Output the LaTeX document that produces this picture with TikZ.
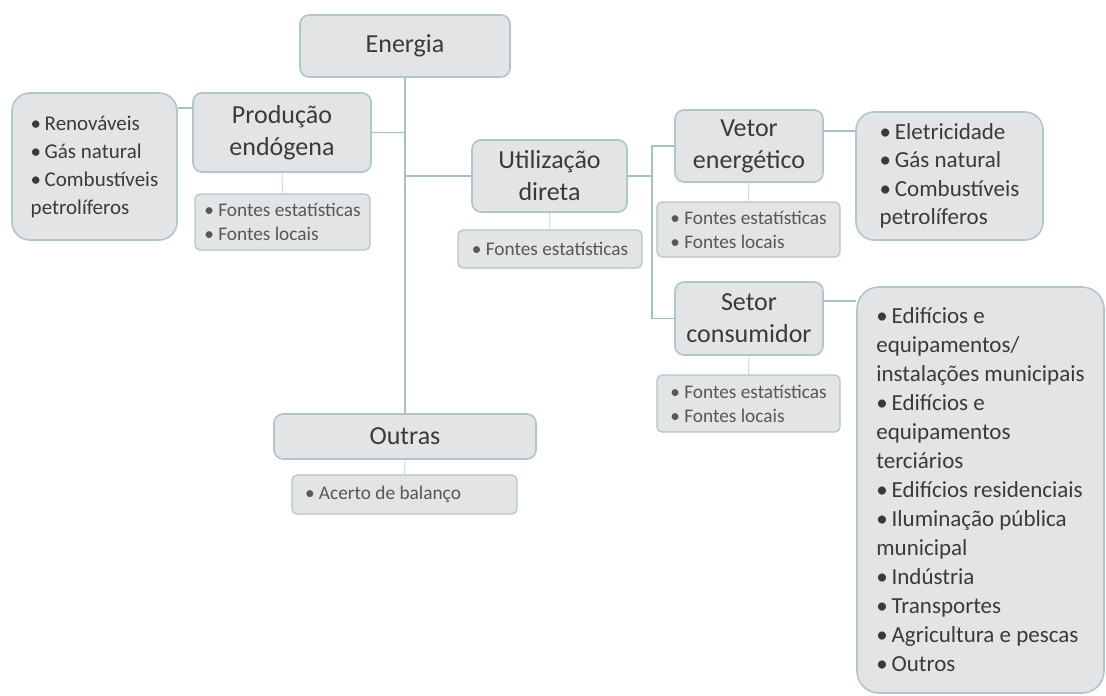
\documentclass[tikz,border=0pt]{standalone}
\usepackage{fontspec}
\setmainfont{Carlito}
\usepackage{tikz}
\usetikzlibrary{positioning}
\definecolor{caixa}{HTML}{E3E4E6}
\definecolor{borda}{HTML}{AFC6CB}
\definecolor{corlig}{HTML}{A6C1C6}
\definecolor{corfina}{HTML}{D2D9DB}
\definecolor{texto}{HTML}{3A3A3A}

\begin{document}
\begin{tikzpicture}[x=1pt,y=-1pt,
tema/.style={draw=borda,line width=1.6pt,fill=caixa,rounded corners=9pt,text=texto,align=center,inner sep=0pt,font=\fontsize{26}{32}\selectfont},
lista/.style={draw=borda,line width=1.6pt,fill=caixa,rounded corners=18pt,text=texto,align=left,inner sep=0pt,font=\fontsize{22}{28.5}\selectfont},
fonte/.style={draw=borda,line width=1.2pt,fill=caixa,rounded corners=5pt,text=texto!85,align=left,inner sep=0pt,font=\fontsize{19.3}{24}\selectfont},
ligacao/.style={draw=corlig,line width=1.6pt},
ligafina/.style={draw=corfina,line width=1pt}]
\useasboundingbox (0,0) rectangle (1106,696);
% temas
\node[tema,minimum width=210,minimum height=62](energia) at (405,46){Energia};
\node[tema,minimum width=178,minimum height=79](prod) at (282,132.5){Produção\\endógena};
\node[tema,minimum width=155,minimum height=72](util) at (549.5,176){Utilização\\direta};
\node[tema,minimum width=148,minimum height=72](vetor) at (749,146){Vetor\\energético};
\node[tema,minimum width=148,minimum height=73](setor) at (749,318.5){Setor\\consumidor};
\node[tema,minimum width=262,minimum height=45](outras) at (405,436.5){Outras};
% fontes
\node[fonte,minimum width=175,minimum height=56](pfonte) at (282.5,222){• Fontes estatísticas\\• Fontes locais};
\node[fonte,minimum width=184,minimum height=38](ufonte) at (550,249){• Fontes estatísticas};
\node[fonte,minimum width=183,minimum height=55](vfonte) at (748.5,229.5){• Fontes estatísticas\\• Fontes locais};
\node[fonte,minimum width=183,minimum height=57](sfonte) at (748.5,403.5){• Fontes estatísticas\\• Fontes locais};
\node[fonte,minimum width=225,minimum height=39](acerto) at (404.5,494.5){\makebox[199pt][l]{• Acerto de balanço}};
% listas
\node[lista,font=\fontsize{21}{28}\selectfont,minimum width=165,minimum height=147](plista) at (94.5,166.5)
{•\,Renováveis\\•\,Gás natural\\•\,Combustíveis\\petrolíferos};
\node[lista,font=\fontsize{23}{28.5}\selectfont,minimum width=187,minimum height=128](vlista) at (949.5,176)
{•\,Eletricidade\\•\,Gás natural\\•\,Combustíveis\\petrolíferos};
\node[lista,font=\fontsize{23}{29}\selectfont,rounded corners=22pt,minimum width=247,minimum height=406](slista) at (980.5,490)
{•\,Edifícios e\\equipamentos/\\instalações municipais\\•\,Edifícios e\\equipamentos\\terciários\\•\,Edifícios residenciais\\•\,Iluminação pública\\municipal\\•\,Indústria\\•\,Transportes\\•\,Agricultura e pescas\\•\,Outros};
% ligacoes
\coordinate(pj) at ([yshift=-16pt]prod.north west);
\coordinate(vj) at ([yshift=-22pt]vetor.north east);
\coordinate(sj) at ([yshift=-20pt]setor.north east);
\draw[ligacao](energia.south)--(outras.north);
\draw[ligacao](prod.east)--(prod.east -| energia.south);
\draw[ligacao](util.west)--(util.west -| energia.south);
\draw[ligacao](pj)--(pj -| plista.east);
\draw[ligacao](util.east)--+(24pt,0)coordinate(br);
\draw[ligacao](vetor.west)-|(br)|-(setor.west);
\draw[ligacao](vj)--(vj -| vlista.west);
\draw[ligacao](sj)--(sj -| slista.west);
\draw[ligafina](prod.south)--(pfonte.north);
\draw[ligafina](util.south)--(ufonte.north);
\draw[ligafina](vetor.south)--(vfonte.north);
\draw[ligafina](setor.south)--(sfonte.north);
\draw[ligafina](outras.south)--(acerto.north);
\end{tikzpicture}
\end{document}
